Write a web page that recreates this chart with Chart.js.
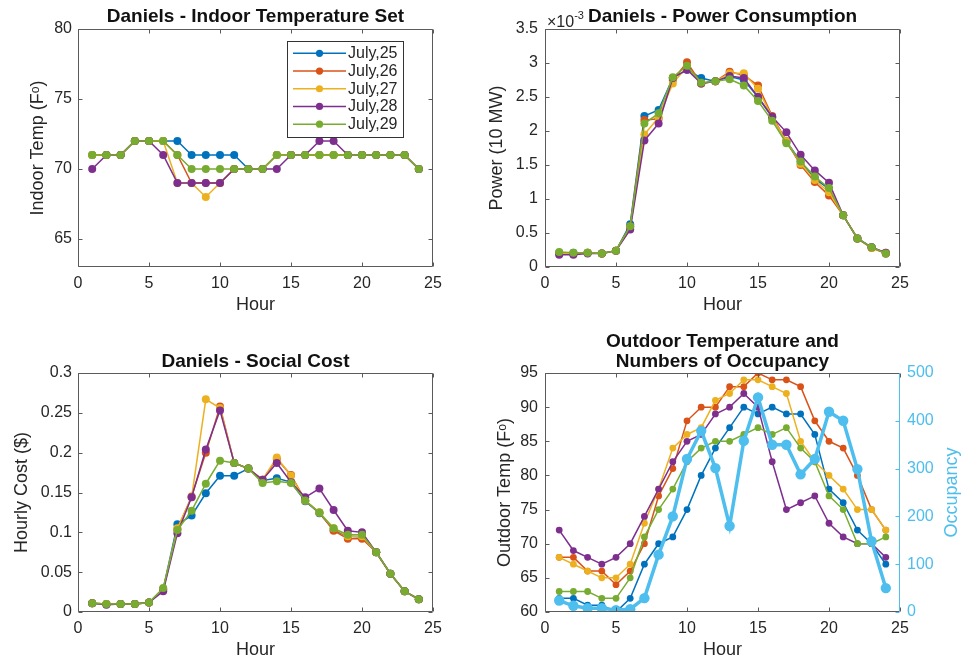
<!DOCTYPE html>
<html><head><meta charset="utf-8">
<script src="https://cdn.jsdelivr.net/npm/chart.js@4.4.0/dist/chart.umd.min.js"></script>
<style>
html,body{margin:0;padding:0;background:#fff;}
#wrap{position:relative;width:964px;height:662px;overflow:hidden;background:#fff;}
canvas{position:absolute;}
</style></head><body>
<div id="wrap">
<canvas id="c1" width="482" height="320" style="left:0px;top:0px"></canvas>
<canvas id="c2" width="482" height="320" style="left:482px;top:0px"></canvas>
<canvas id="c3" width="482" height="342" style="left:0px;top:320px"></canvas>
<canvas id="c4" width="482" height="342" style="left:482px;top:320px"></canvas>
</div>
<script>
// ---------------- data ----------------
const hours = [1,2,3,4,5,6,7,8,9,10,11,12,13,14,15,16,17,18,19,20,21,22,23,24];
const dayLabels = ['July,25','July,26','July,27','July,28','July,29'];
const hourTicks = [0,5,10,15,20,25];

// Indoor temperature set (F)
const indoor25 = [71,71,71,72,72,72,72,71,71,71,71,70,70,71,71,71,71,71,71,71,71,71,71,70];
const indoor26 = [71,71,71,72,72,72,71,69,69,69,70,70,70,71,71,71,71,71,71,71,71,71,71,70];
const indoor27 = [71,71,71,72,72,72,69,69,68,69,70,70,70,71,71,71,71,71,71,71,71,71,71,70];
const indoor28 = [70,71,71,72,72,71,69,69,69,69,70,70,70,70,71,71,72,72,71,71,71,71,71,70];
const indoor29 = [71,71,71,72,72,72,71,70,70,70,70,70,70,71,71,71,71,71,71,71,71,71,71,70];
const indoorTicks = [65,70,75,80];

// Power consumption (x10^-3, 10 MW)
const power25 = [0.21,0.21,0.21,0.20,0.24,0.63,2.22,2.31,2.78,2.90,2.78,2.73,2.80,2.75,2.50,2.20,1.85,1.55,1.30,1.15,0.76,0.42,0.29,0.20];
const power26 = [0.20,0.19,0.21,0.20,0.24,0.60,2.16,2.18,2.75,3.01,2.70,2.73,2.87,2.82,2.67,2.22,1.85,1.50,1.25,1.05,0.76,0.42,0.28,0.20];
const power27 = [0.20,0.20,0.21,0.20,0.24,0.58,1.95,2.20,2.70,2.95,2.70,2.73,2.85,2.85,2.62,2.20,1.85,1.52,1.28,1.10,0.76,0.42,0.28,0.21];
const power28 = [0.18,0.18,0.20,0.20,0.24,0.55,1.86,2.11,2.78,2.90,2.70,2.73,2.81,2.78,2.50,2.21,1.98,1.65,1.42,1.24,0.76,0.42,0.29,0.21];
const power29 = [0.22,0.21,0.21,0.20,0.24,0.60,2.11,2.26,2.79,2.96,2.71,2.73,2.76,2.67,2.44,2.15,1.82,1.55,1.33,1.16,0.76,0.42,0.29,0.20];
const powerTicks = [0,0.5,1,1.5,2,2.5,3,3.5];

// Hourly social cost ($)
const cost25 = [0.011,0.010,0.010,0.010,0.012,0.029,0.110,0.121,0.149,0.171,0.171,0.180,0.165,0.168,0.163,0.139,0.124,0.103,0.095,0.094,0.075,0.048,0.026,0.016];
const cost26 = [0.011,0.010,0.010,0.010,0.012,0.028,0.104,0.145,0.200,0.258,0.187,0.180,0.166,0.192,0.172,0.140,0.125,0.102,0.092,0.092,0.075,0.048,0.026,0.016];
const cost27 = [0.011,0.010,0.010,0.010,0.012,0.028,0.105,0.144,0.267,0.256,0.187,0.180,0.166,0.194,0.171,0.140,0.125,0.105,0.095,0.095,0.075,0.048,0.026,0.016];
const cost28 = [0.011,0.009,0.010,0.010,0.012,0.026,0.099,0.144,0.204,0.253,0.187,0.180,0.166,0.187,0.163,0.144,0.155,0.128,0.102,0.100,0.075,0.048,0.026,0.016];
const cost29 = [0.011,0.010,0.010,0.010,0.012,0.030,0.103,0.127,0.161,0.190,0.187,0.180,0.162,0.164,0.162,0.140,0.125,0.105,0.097,0.097,0.075,0.048,0.026,0.016];
const costTicks = [0,0.05,0.1,0.15,0.2,0.25,0.3];

// Outdoor temperature (F)
const outdoor25 = [62,62,61,61,60,62,67,70,71,75,80,84,87,90,89,90,89,89,86,78,76,72,70,67];
const outdoor26 = [68,68,66,66,64,66,70,77,81,88,90,90,93,93,95,94,94,93,88,85,84,80,75,72];
const outdoor27 = [68,67,66,65,65,67,73,78,84,86,87,91,92,94,94,93,92,85,82,80,78,75,75,72];
const outdoor28 = [72,69,68,67,68,70,74,78,82,85,86,89,90,92,90,82,75,76,77,73,71,70,70,68];
const outdoor29 = [63,63,63,62,62,65,71,75,78,82,84,85,85,86,87,86,87,84,82,77,75,70,70,71];
const outdoorTicks = [60,65,70,75,80,85,90,95];

// Number of occupants
const occupancy = [24,13,8,8,4,6,29,120,200,320,379,301,180,358,449,350,350,288,320,419,400,299,148,50];
const occupancyTicks = [0,100,200,300,400,500];

// ---------------- styles ----------------
const FAM = "'Liberation Sans', Arial, Helvetica, sans-serif";
const TEXT = '#262626';
const AXIS = '#5a5a5a';
const colors = ['#0072BD','#D95319','#EDB120','#7E2F8E','#77AC30'];
const OCC = '#4DBEEE';
const fmt = v => String(parseFloat(Number(v).toFixed(4)));

// ---------------- plugins ----------------
const boxPlugin = {
  id: 'mbox',
  afterDatasetsDraw(chart, args, opts) {
    const {ctx, chartArea: a, scales} = chart;
    const L = 4;
    const ac = AXIS, rc = opts.rightColor || AXIS;
    ctx.save();
    ctx.lineWidth = 1;
    const line = (x1,y1,x2,y2,c) => { ctx.strokeStyle = c; ctx.beginPath(); ctx.moveTo(x1,y1); ctx.lineTo(x2,y2); ctx.stroke(); };
    const l = Math.round(a.left) + 0.5, r = Math.round(a.right) - 0.5;
    const t = Math.round(a.top) + 0.5, b = Math.round(a.bottom) - 0.5;
    scales.x.ticks.forEach(tk => {
      const px = Math.round(scales.x.getPixelForValue(tk.value)) + 0.5;
      line(px, b, px, b - L, ac); line(px, t, px, t + L, ac);
    });
    scales.y.ticks.forEach(tk => {
      const py = Math.round(scales.y.getPixelForValue(tk.value)) + 0.5;
      line(l, py, l + L, py, ac);
      if (!scales.y2) line(r, py, r - L, py, ac);
    });
    if (scales.y2) scales.y2.ticks.forEach(tk => {
      const py = Math.round(scales.y2.getPixelForValue(tk.value)) + 0.5;
      line(r, py, r - L, py, rc);
    });
    line(l, t, r, t, ac); line(l, b, r, b, ac); line(l, t, l, b, ac); line(r, t, r, b, rc);
    ctx.restore();
  }
};

const legendPlugin = {
  id: 'mlegend',
  afterDraw(chart, args, opts) {
    if (!opts.show) return;
    const {ctx, chartArea: a} = chart;
    const ds = chart.data.datasets;
    ctx.save();
    ctx.font = '16px ' + FAM;
    const rowH = 17.7, lineLen = 53, padL = 6, gap = 2, padR = 5, padV = 3.5;
    const tw = Math.max(...ds.map(d => ctx.measureText(d.label).width));
    const w = Math.round(padL + lineLen + gap + tw + padR);
    const h = Math.round(ds.length * rowH + padV * 2);
    const x0 = Math.round(a.right - 30 - w), y0 = Math.round(a.top + 12);
    ctx.fillStyle = '#fff'; ctx.fillRect(x0, y0, w, h);
    ctx.strokeStyle = '#333'; ctx.lineWidth = 1; ctx.strokeRect(x0 + 0.5, y0 + 0.5, w, h);
    ds.forEach((d, i) => {
      const cy = y0 + padV + rowH * (i + 0.5);
      ctx.strokeStyle = d.borderColor; ctx.lineWidth = d.borderWidth;
      ctx.beginPath(); ctx.moveTo(x0 + padL, cy); ctx.lineTo(x0 + padL + lineLen, cy); ctx.stroke();
      ctx.fillStyle = d.borderColor; ctx.beginPath(); ctx.arc(x0 + padL + lineLen / 2, cy, 3.6, 0, Math.PI * 2); ctx.fill();
      ctx.fillStyle = TEXT; ctx.textBaseline = 'middle'; ctx.textAlign = 'left';
      ctx.fillText(d.label, x0 + padL + lineLen + gap, cy + 0.5);
    });
    ctx.restore();
  }
};

const multPlugin = {
  id: 'mmult',
  afterDraw(chart, args, opts) {
    if (!opts.show) return;
    const {ctx, chartArea: a} = chart;
    ctx.save();
    ctx.fillStyle = TEXT; ctx.textAlign = 'left'; ctx.textBaseline = 'alphabetic';
    ctx.font = '16px ' + FAM;
    const base = '\u00d710';
    const x = a.left + 2;
    ctx.fillText(base, x, a.top - 2);
    const w = ctx.measureText(base).width;
    ctx.font = '11px ' + FAM;
    ctx.fillText('-3', x + w, a.top - 10);
    ctx.restore();
  }
};

const rightTitlePlugin = {
  id: 'mrtitle',
  afterDraw(chart, args, opts) {
    if (!opts.text) return;
    const {ctx, chartArea: a} = chart;
    ctx.save();
    ctx.translate(a.right + 52, (a.top + a.bottom) / 2);
    ctx.rotate(-Math.PI / 2);
    ctx.fillStyle = opts.color; ctx.font = '18px ' + FAM;
    ctx.textAlign = 'center'; ctx.textBaseline = 'middle';
    ctx.fillText(opts.text, 0, 0);
    ctx.restore();
  }
};

// ---------------- builders ----------------
function mkSets(series, radius, width) {
  return series.map((vals, i) => ({
    label: dayLabels[i],
    data: hours.map((h, j) => ({x: h, y: vals[j]})),
    borderColor: colors[i], backgroundColor: colors[i],
    pointBackgroundColor: colors[i], pointBorderColor: colors[i],
    borderWidth: width, pointRadius: radius, pointHoverRadius: radius, pointBorderWidth: 0,
    order: 10 - i, tension: 0, fill: false, yAxisID: 'y'
  }));
}
function xScale(height, tickPad, titlePadBottom) {
  return {
    type: 'linear', min: 0, max: 25,
    afterBuildTicks: s => { s.ticks = hourTicks.map(v => ({value: v})); },
    afterFit: s => { s.height = height; },
    grid: {display: false, drawTicks: false}, border: {display: false},
    ticks: {padding: tickPad, color: TEXT, font: {size: 16, family: FAM}, maxRotation: 0, autoSkip: false, callback: fmt},
    title: {display: true, text: 'Hour', color: TEXT, font: {size: 18, family: FAM}, padding: {top: 0, bottom: titlePadBottom}}
  };
}
function yScale(min, max, tickList, width, tickPad, title, titlePadTop, color, position) {
  return {
    type: 'linear', min: min, max: max, position: position || 'left',
    afterBuildTicks: s => { s.ticks = tickList.map(v => ({value: v})); },
    afterFit: s => { s.width = width; },
    grid: {display: false, drawTicks: false}, border: {display: false},
    ticks: {padding: tickPad, color: color || TEXT, font: {size: 16, family: FAM}, autoSkip: false, callback: fmt},
    title: {display: !!title, text: title || '', color: color || TEXT, font: {size: 18, family: FAM}, padding: {top: titlePadTop, bottom: 0}}
  };
}
function titleOpt(text, pt, pb, lh) {
  return {display: true, text: text, color: '#111', fullSize: false,
    font: {size: 19, weight: 'bold', family: FAM, lineHeight: lh || 1.2}, padding: {top: pt, bottom: pb}};
}
function baseOpts(extra) {
  return Object.assign({
    responsive: false, animation: false, devicePixelRatio: 1,
    events: [],
  }, extra);
}

// ---------------- charts ----------------
new Chart(document.getElementById('c1'), {
  type: 'line',
  data: {datasets: mkSets([indoor25, indoor26, indoor27, indoor28, indoor29], 4, 1.5)},
  options: baseOpts({
    layout: {padding: {left: 0, right: 49, top: 0, bottom: 0}},
    scales: {
      x: xScale(53, 7, 4),
      y: yScale(63, 80, indoorTicks, 78, 6, 'Indoor Temp (F\u1d52)', 27)
    },
    plugins: {
      legend: {display: false}, tooltip: {enabled: false},
      title: titleOpt('Daniels - Indoor Temperature Set', 5.4, 0.8),
      mlegend: {show: true}
    }
  }),
  plugins: [boxPlugin, legendPlugin]
});

new Chart(document.getElementById('c2'), {
  type: 'line',
  data: {datasets: mkSets([power25, power26, power27, power28, power29], 4, 1.5)},
  options: baseOpts({
    layout: {padding: {left: 0, right: 64, top: 0, bottom: 0}},
    scales: {
      x: xScale(53, 7, 4),
      y: yScale(0, 3.5, powerTicks, 63, 7, 'Power (10 MW)', 4)
    },
    plugins: {
      legend: {display: false}, tooltip: {enabled: false},
      title: titleOpt('Daniels - Power Consumption', 5.4, 0.8),
      mmult: {show: true}
    }
  }),
  plugins: [boxPlugin, multPlugin]
});

new Chart(document.getElementById('c3'), {
  type: 'line',
  data: {datasets: mkSets([cost25, cost26, cost27, cost28, cost29], 4, 1.5)},
  options: baseOpts({
    layout: {padding: {left: 0, right: 49, top: 0, bottom: 0}},
    scales: {
      x: xScale(50, 7, 1),
      y: yScale(0, 0.3, costTicks, 78, 6, 'Hourly Cost ($)', 11.5)
    },
    plugins: {
      legend: {display: false}, tooltip: {enabled: false},
      title: titleOpt('Daniels - Social Cost', 30, 0.2)
    }
  }),
  plugins: [boxPlugin]
});

const outdoorSets = mkSets([outdoor25, outdoor26, outdoor27, outdoor28, outdoor29], 3.4, 1.5);
outdoorSets.push({
  label: 'Occupancy',
  data: hours.map((h, j) => ({x: h, y: occupancy[j]})),
  borderColor: OCC, backgroundColor: OCC, pointBackgroundColor: OCC, pointBorderColor: OCC,
  borderWidth: 3.5, pointRadius: 5.2, pointHoverRadius: 5.2, pointBorderWidth: 0,
  order: 0, tension: 0, fill: false, yAxisID: 'y2'
});
new Chart(document.getElementById('c4'), {
  type: 'line',
  data: {datasets: outdoorSets},
  options: baseOpts({
    layout: {padding: {left: 0, right: 0, top: 0, bottom: 0}},
    scales: {
      x: xScale(50, 7, 1),
      y: yScale(60, 95, outdoorTicks, 63, 7, 'Outdoor Temp (F\u1d52)', 12),
      y2: yScale(0, 500, occupancyTicks, 64, 7, '', 0, OCC, 'right')
    },
    plugins: {
      legend: {display: false}, tooltip: {enabled: false},
      title: titleOpt(['Outdoor Temperature and', 'Numbers of Occupancy'], 12, 1.1, 1.05),
      mbox: {rightColor: OCC},
      mrtitle: {text: 'Occupancy', color: OCC}
    }
  }),
  plugins: [boxPlugin, rightTitlePlugin]
});
</script>
</body></html>
